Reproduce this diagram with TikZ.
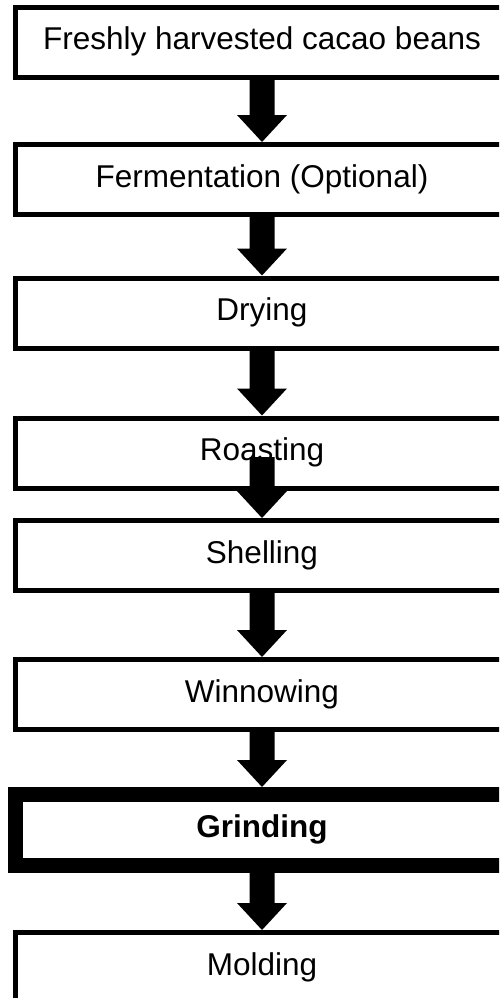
\documentclass[tikz,border=0pt]{standalone}
\usepackage{fontspec}
\setmainfont{Liberation Sans}
\usetikzlibrary{calc}

\tikzset{
  stepbox/.style={draw=black, fill=white, line width=5pt, inner sep=0pt,
    minimum width=493pt, minimum height=70pt,
    text height=22pt, text depth=7pt,
    font=\fontsize{31.5}{36}\selectfont},
  keybox/.style={stepbox, line width=15pt, minimum height=71pt,
    font=\fontsize{31.5}{36}\selectfont\bfseries},
}

% thick block arrow: shaft 25pt wide, head 50pt wide and 27pt long
\newcommand\blockarrow[2]{%
  \fill[black] let \p1=(#1), \p2=(#2) in
    (\x2-12.5pt,\y1) -- (\x2+12.5pt,\y1) -- (\x2+12.5pt,\y2+27pt)
    -- (\x2+25pt,\y2+27pt) -- (\x2,\y2) -- (\x2-25pt,\y2+27pt)
    -- (\x2-12.5pt,\y2+27pt) -- cycle;}

\begin{document}
\begin{tikzpicture}[x=1pt,y=1pt]
  \clip (0,0) rectangle (499,-998);
  \fill[white] (0,0) rectangle (499,-998);

  \node[stepbox] (harvest) at (262,-42.5) {Freshly harvested cacao beans};
  \node[stepbox] (ferment) at (262,-179.5) {Fermentation (Optional)};
  \node[stepbox] (dry)     at (262,-313)   {Drying};
  \node[stepbox] (roast)   at (262,-453)   {Roasting};
  \node[stepbox] (shell)   at (262,-555.5) {Shelling};
  \node[stepbox] (winnow)  at (262,-694.5) {Winnowing};
  \node[keybox]  (grind)   at (262,-830)   {Grinding};
  \node[stepbox] (mold)    at (262,-967.5) {Molding};

  \coordinate (roastmid) at (262,-457);

  \blockarrow{harvest.south}{ferment.north}
  \blockarrow{ferment.south}{dry.north}
  \blockarrow{dry.south}{roast.north}
  \blockarrow{roastmid}{shell.north}
  \blockarrow{shell.south}{winnow.north}
  \blockarrow{winnow.south}{grind.north}
  \blockarrow{grind.south}{mold.north}
\end{tikzpicture}
\end{document}
